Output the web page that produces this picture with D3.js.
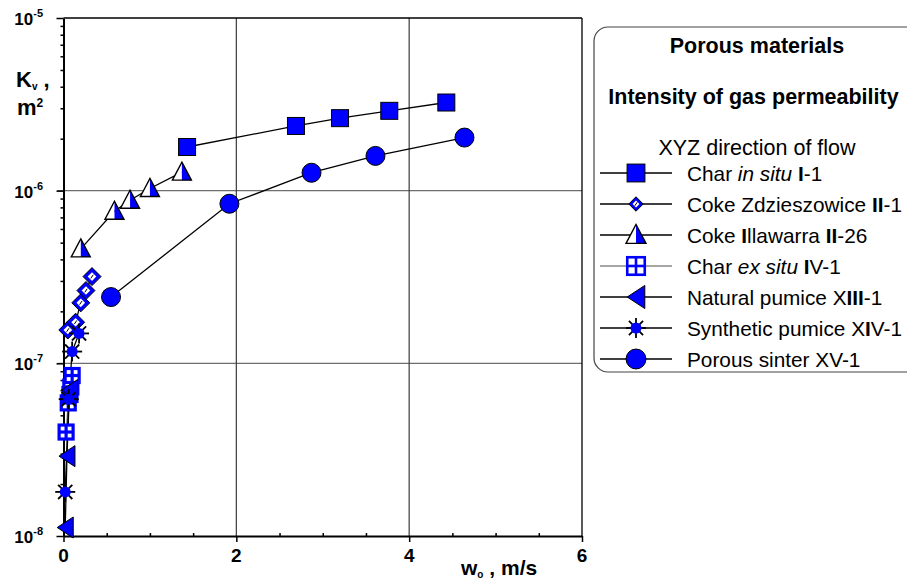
<!DOCTYPE html>
<html>
<head>
<meta charset="utf-8">
<script src="https://cdn.jsdelivr.net/npm/d3@7"></script>
<style>
	body { margin: 0; background: #fff; }
	svg { font-family: "Liberation Sans", Arial, sans-serif; }
</style>
</head>
<body>
<div class="container"></div>
<script>
// data: w0 in m/s, Kv in m2
var charInSituW = [1.43, 2.69, 3.20, 3.77, 4.43],
	charInSituK = [1.79e-6, 2.37e-6, 2.63e-6, 2.90e-6, 3.24e-6];
var zdzW = [0.05, 0.14, 0.20, 0.26, 0.33],
	zdzK = [1.56e-7, 1.73e-7, 2.24e-7, 2.64e-7, 3.18e-7];
var illawarraW = [0.20, 0.59, 0.77, 1.00, 1.37],
	illawarraK = [4.6e-7, 7.6e-7, 8.8e-7, 1.03e-6, 1.28e-6];
var charExSituW = [0.03, 0.055, 0.075, 0.085, 0.10],
	charExSituK = [4.0e-8, 5.9e-8, 6.6e-8, 7.3e-8, 8.5e-8];
var naturalW = [0.02, 0.04, 0.07],
	naturalK = [1.12e-8, 2.9e-8, 7.0e-8];
var syntheticW = [0.02, 0.06, 0.10, 0.18],
	syntheticK = [1.8e-8, 6.2e-8, 1.17e-7, 1.49e-7];
var sinterW = [0.55, 1.92, 2.87, 3.61, 4.64],
	sinterK = [2.42e-7, 8.4e-7, 1.27e-6, 1.59e-6, 2.03e-6];

var xTicks = [0, 2, 4, 6],
	xMinor = [0.5, 1, 1.5, 2.5, 3, 3.5, 4.5, 5, 5.5],
	yTickExp = [-8, -7, -6, -5];

// legend labels: pieces [text, style] (b = bold, i = italic)
var legendLabels = [
	[['Char ', ''], ['in situ', 'i'], [' ', ''], ['I', 'b'], ['-1', '']],
	[['Coke Zdzieszowice ', ''], ['II', 'b'], ['-1', '']],
	[['Coke ', ''], ['I', 'b'], ['llawarra ', ''], ['II', 'b'], ['-26', '']],
	[['Char ', ''], ['ex situ', 'i'], [' ', ''], ['I', 'b'], ['V-1', '']],
	[['Natural pumice X', ''], ['III', 'b'], ['-1', '']],
	[['Synthetic pumice X', ''], ['I', 'b'], ['V-1', '']],
	[['Porous sinter XV-1', '']]
];

var BLUE = '#0000ff',
	LEFT = 63.5, RIGHT = 582, TOP = 18, BOTTOM = 536;

function zip(a, b) {
	return a.map(function(v, i) { return [v, b[i]]; });
}

var series = [
	{ pts: zip(charInSituW, charInSituK), marker: 'square', line: '#000' },
	{ pts: zip(zdzW, zdzK), marker: 'diamond', line: '#000' },
	{ pts: zip(illawarraW, illawarraK), marker: 'halftri', line: '#000' },
	{ pts: zip(charExSituW, charExSituK), marker: 'grid', line: '#888' },
	{ pts: zip(naturalW, naturalK), marker: 'lefttri', line: '#000' },
	{ pts: zip(syntheticW, syntheticK), marker: 'star', line: '#000' },
	{ pts: zip(sinterW, sinterK), marker: 'circle', line: '#000' }
];

var svg = d3.select('.container').append('svg')
	.attr('width', 907)
	.attr('height', 583);

var xScale = d3.scaleLinear().domain([0, 6]).range([LEFT, RIGHT]);
var yScale = d3.scaleLog().domain([1e-8, 1e-5]).range([BOTTOM, TOP]);

// grid lines
svg.selectAll('.hgrid')
	.data([1e-7, 1e-6]).enter()
	.append('line')
	.attr('x1', LEFT - 6).attr('x2', RIGHT)
	.attr('y1', function(d) { return yScale(d); })
	.attr('y2', function(d) { return yScale(d); })
	.attr('stroke', '#6e6e6e').attr('stroke-width', 1.3);

svg.selectAll('.vgrid')
	.data([2, 4]).enter()
	.append('line')
	.attr('x1', function(d) { return xScale(d); })
	.attr('x2', function(d) { return xScale(d); })
	.attr('y1', TOP).attr('y2', BOTTOM)
	.attr('stroke', '#3a3a3a').attr('stroke-width', 1.2);

// frame top and right
svg.append('line').attr('x1', LEFT).attr('x2', RIGHT).attr('y1', TOP).attr('y2', TOP)
	.attr('stroke', '#000').attr('stroke-width', 1.3);
svg.append('line').attr('x1', RIGHT).attr('x2', RIGHT).attr('y1', TOP).attr('y2', BOTTOM)
	.attr('stroke', '#000').attr('stroke-width', 1.3);

// axes
var minorY = [];
yTickExp.slice(0, 3).forEach(function(e) {
	for (var m = 2; m < 10; m++) minorY.push(m * Math.pow(10, e));
});

var yMinorAxis = svg.append('g')
	.attr('transform', 'translate(' + LEFT + ',0)')
	.call(d3.axisLeft(yScale).tickValues(minorY).tickSize(3).tickFormat(''));
var yAxis = svg.append('g')
	.attr('transform', 'translate(' + LEFT + ',0)')
	.call(d3.axisLeft(yScale).tickValues(yTickExp.map(function(e) { return Math.pow(10, e); }))
		.tickSize(7).tickSizeOuter(0).tickFormat(''));
var xMinorAxis = svg.append('g')
	.attr('transform', 'translate(0,' + BOTTOM + ')')
	.call(d3.axisTop(xScale).tickValues(xMinor).tickSize(3).tickFormat(''));
var xAxis = svg.append('g')
	.attr('transform', 'translate(0,' + BOTTOM + ')')
	.call(d3.axisBottom(xScale).tickValues(xTicks).tickSize(6).tickSizeOuter(0).tickFormat(''));

svg.selectAll('.domain').attr('stroke', '#000').attr('stroke-width', 2);
svg.selectAll('.tick line').attr('stroke', '#000').attr('stroke-width', 1.5);
yMinorAxis.select('.domain').remove();
xMinorAxis.select('.domain').remove();

// y tick labels 10^n
yTickExp.forEach(function(e) {
	var t = svg.append('text')
		.attr('x', 43).attr('y', yScale(Math.pow(10, e)) + 7)
		.attr('text-anchor', 'end')
		.attr('font-weight', 'bold').attr('font-size', 17);
	t.append('tspan').text('10');
	t.append('tspan').attr('font-size', 11).attr('dy', -8).text(e);
});

// x tick labels
svg.selectAll('.xlabel')
	.data(xTicks).enter()
	.append('text')
	.attr('x', function(d) { return xScale(d); })
	.attr('y', 562)
	.attr('text-anchor', 'middle')
	.attr('font-weight', 'bold').attr('font-size', 19)
	.text(function(d) { return d; });

// axis titles
var yt = svg.append('text').attr('x', 16).attr('y', 87)
	.attr('font-weight', 'bold').attr('font-size', 22);
yt.append('tspan').text('K');
yt.append('tspan').attr('font-size', 10).attr('dy', 3).text('v');
yt.append('tspan').attr('dy', -3).text(' ,');
var ym = svg.append('text').attr('x', 17).attr('y', 115)
	.attr('font-weight', 'bold').attr('font-size', 22);
ym.append('tspan').text('m');
ym.append('tspan').attr('font-size', 12).attr('dy', -8).text('2');

var xt = svg.append('text').attr('x', 461).attr('y', 575)
	.attr('font-weight', 'bold').attr('font-size', 21);
xt.append('tspan').text('w');
xt.append('tspan').attr('font-size', 10).attr('dy', 3).text('o');
xt.append('tspan').attr('dy', -3).text(' , m/s');

// markers
function drawMarker(g, type, s) {
	s = s || 1;
	if (type === 'square') {
		var hs = 8.5 * s;
		g.append('rect').attr('x', -hs).attr('y', -hs)
			.attr('width', 2 * hs).attr('height', 2 * hs)
			.attr('fill', BLUE).attr('stroke', '#000').attr('stroke-width', 1);
	} else if (type === 'circle') {
		g.append('circle').attr('r', 9.5 * s)
			.attr('fill', BLUE).attr('stroke', '#000').attr('stroke-width', 1);
	} else if (type === 'diamond') {
		var r = 9 * s;
		g.append('path').attr('d', 'M0,' + -r + 'L' + r + ',0L0,' + r + 'L' + -r + ',0Z')
			.attr('fill', BLUE).attr('stroke', '#000').attr('stroke-width', 1);
		var q = 4.3 * s;
		g.append('path').attr('d', 'M0,' + -q + 'L' + q + ',0L0,' + q + 'L' + -q + ',0Z')
			.attr('fill', '#fff');
		g.append('line').attr('x1', -1.2).attr('y1', 1.8).attr('x2', 1.2).attr('y2', -1.8)
			.attr('stroke', '#000').attr('stroke-width', 1);
	} else if (type === 'halftri') {
		var w = 9.5 * s, ht = 10 * s;
		g.append('path').attr('d', 'M0,' + -ht + 'L' + -w + ',' + ht * 0.8 + 'L0,' + ht * 0.8 + 'Z')
			.attr('fill', '#fff');
		g.append('path').attr('d', 'M0,' + -ht + 'L' + w + ',' + ht * 0.8 + 'L0,' + ht * 0.8 + 'Z')
			.attr('fill', BLUE);
		g.append('path').attr('d', 'M0,' + -ht + 'L' + w + ',' + ht * 0.8 + 'L' + -w + ',' + ht * 0.8 + 'Z')
			.attr('fill', 'none').attr('stroke', '#000').attr('stroke-width', 1.4);
	} else if (type === 'grid') {
		var a = 7 * s, sw = s > 1.1 ? 2.6 : 3.2;
		g.append('rect').attr('x', -a).attr('y', -a).attr('width', 2 * a).attr('height', 2 * a)
			.attr('fill', '#fff').attr('stroke', BLUE).attr('stroke-width', sw);
		g.append('line').attr('x1', -a).attr('x2', a).attr('y1', 0).attr('y2', 0)
			.attr('stroke', BLUE).attr('stroke-width', sw);
		g.append('line').attr('x1', 0).attr('x2', 0).attr('y1', -a).attr('y2', a)
			.attr('stroke', BLUE).attr('stroke-width', sw);
	} else if (type === 'lefttri') {
		var tw = 8 * s, th = 10.5 * s;
		g.append('path').attr('d', 'M' + -tw + ',0L' + tw + ',' + -th + 'L' + tw + ',' + th + 'Z')
			.attr('fill', BLUE).attr('stroke', '#000').attr('stroke-width', 1);
	} else if (type === 'star') {
		var len = 10 * s;
		for (var k = 0; k < 8; k++) {
			var ang = k * Math.PI / 4;
			g.append('line').attr('x1', 0).attr('y1', 0)
				.attr('x2', len * Math.cos(ang)).attr('y2', len * Math.sin(ang))
				.attr('stroke', '#000').attr('stroke-width', 1.8);
		}
		g.append('circle').attr('r', 5.5 * s).attr('fill', BLUE);
	}
}

var line = d3.line()
	.x(function(d) { return xScale(d[0]); })
	.y(function(d) { return yScale(d[1]); });

series.forEach(function(s) {
	svg.append('path')
		.datum(s.pts)
		.attr('d', line)
		.attr('fill', 'none')
		.attr('stroke', s.line)
		.attr('stroke-width', 1.3);
});

series.forEach(function(s) {
	svg.append('g').selectAll('g')
		.data(s.pts).enter()
		.append('g')
		.attr('transform', function(d) { return 'translate(' + xScale(d[0]) + ',' + yScale(d[1]) + ')'; })
		.each(function() { drawMarker(d3.select(this), s.marker); });
});

// legend
var legend = svg.append('g');
legend.append('rect')
	.attr('x', 594).attr('y', 27).attr('width', 340).attr('height', 345)
	.attr('rx', 14).attr('ry', 14)
	.attr('fill', '#fff').attr('stroke', '#444').attr('stroke-width', 1.2);

legend.append('text').attr('x', 757).attr('y', 53)
	.attr('text-anchor', 'middle').attr('font-weight', 'bold').attr('font-size', 21.5)
	.text('Porous materials');
legend.append('text').attr('x', 753.5).attr('y', 104)
	.attr('text-anchor', 'middle').attr('font-weight', 'bold').attr('font-size', 21.5)
	.text('Intensity of gas permeability');
legend.append('text').attr('x', 757).attr('y', 155)
	.attr('text-anchor', 'middle').attr('font-size', 21.5)
	.text('XYZ direction of flow');

var legendScale = [1.05, 0.8, 1.05, 1.25, 1.1, 1.0, 1.05];
series.forEach(function(s, i) {
	var yy = 173 + i * 31;
	legend.append('line').attr('x1', 600).attr('x2', 672).attr('y1', yy).attr('y2', yy)
		.attr('stroke', s.line).attr('stroke-width', 1.3);
	var g = legend.append('g').attr('transform', 'translate(636,' + yy + ')');
	drawMarker(g, s.marker, legendScale[i]);
	var t = legend.append('text').attr('x', 687).attr('y', yy + 7.5).attr('font-size', 20.8);
	legendLabels[i].forEach(function(p) {
		var ts = t.append('tspan').text(p[0]);
		if (p[1] === 'b') ts.attr('font-weight', 'bold');
		if (p[1] === 'i') ts.attr('font-style', 'italic');
	});
});
</script>
</body>
</html>
